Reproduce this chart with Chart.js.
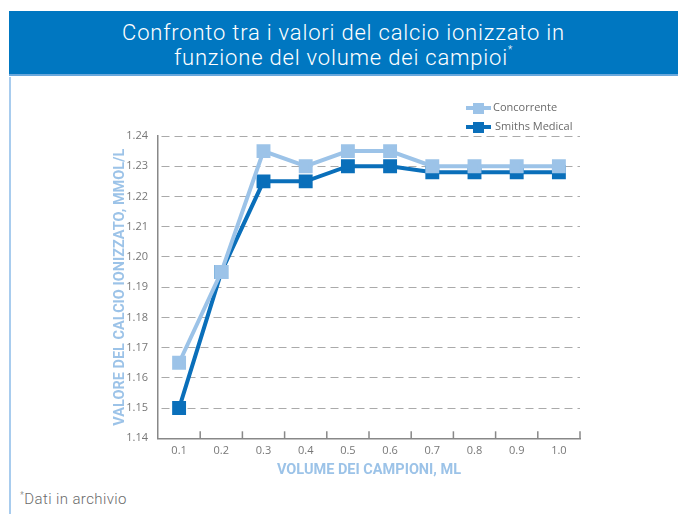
<!DOCTYPE html>
<html>
<head>
<meta charset="utf-8">
<script src="https://cdn.jsdelivr.net/npm/chart.js@4"></script>
<style>
  body { margin: 0; width: 678px; height: 514px; background: #fff; position: relative; overflow: hidden; font-family: Roboto, sans-serif; }
  .header {
    position: absolute; left: 9px; top: 11px; width: 669px; height: 65px;
    background: #0077c1; border-bottom: 2px solid #6aa8dc;
    color: #fff; text-align: center; font-weight: 300; font-size: 22px; line-height: 25px;
    letter-spacing: 0.8px; padding-top: 9px; box-sizing: border-box;
  }
  .header sup { font-size: 10px; vertical-align: top; line-height: 10px; }
  .border { position: absolute; left: 9px; top: 77px; width: 2px; height: 437px; background: #a8ccee; }
  .wrap { position: absolute; left: 0; top: 80px; width: 678px; height: 410px; }
  .note { position: absolute; left: 20px; top: 490px; font-size: 15px; font-weight: 300; letter-spacing: 0.4px; color: #6a6a6a; }
  .note sup { font-size: 9px; }
</style>
</head>
<body>
<div class="header">Confronto tra i valori del calcio ionizzato in<br>funzione del volume dei campioi<sup>*</sup></div>
<div class="border"></div>
<div class="wrap"><canvas id="calcioChart"></canvas></div>
<div class="note"><sup>*</sup>Dati in archivio</div>
<script>
// Data
const volumes = ['0.1', '0.2', '0.3', '0.4', '0.5', '0.6', '0.7', '0.8', '0.9', '1.0'];
const concorrente = [1.165, 1.195, 1.235, 1.23, 1.235, 1.235, 1.23, 1.23, 1.23, 1.23];
const smithsMedical = [1.15, 1.195, 1.225, 1.225, 1.23, 1.23, 1.228, 1.228, 1.228, 1.228];
const seriesNames = ['Concorrente', 'Smiths Medical'];

const lightBlue = '#9cc3e8';
const darkBlue = '#0a6fba';

// Legend: line with a square on it, stacked at top right
const lineLegend = {
    id: 'lineLegend',
    afterDraw(chart) {
        const ctx = chart.ctx;
        const x0 = 466;
        const rows = [28, 47];
        ctx.save();
        chart.data.datasets.forEach((ds, i) => {
            const y = rows[i];
            ctx.strokeStyle = ds.borderColor;
            ctx.lineWidth = 4;
            ctx.beginPath();
            ctx.moveTo(x0, y);
            ctx.lineTo(x0 + 25, y);
            ctx.stroke();
            ctx.fillStyle = ds.borderColor;
            ctx.fillRect(x0 + 7, y - 5, 11, 11);
            ctx.fillStyle = '#6a6a6a';
            ctx.font = '11px "Open Sans", sans-serif';
            ctx.textBaseline = 'middle';
            ctx.fillText(ds.label, x0 + 27 + i * 2, y);
        });
        ctx.restore();
    }
};

// Short tick marks between categories, pointing up into the plot
const innerTicks = {
    id: 'innerTicks',
    afterDatasetsDraw(chart) {
        const xs = chart.scales.x;
        const ctx = chart.ctx;
        const bottom = chart.chartArea.bottom;
        ctx.save();
        ctx.strokeStyle = '#888';
        ctx.lineWidth = 1.5;
        for (let i = 0; i < volumes.length; i++) {
            const px = i < volumes.length - 1
                ? (xs.getPixelForValue(i) + xs.getPixelForValue(i + 1)) / 2
                : xs.right;
            ctx.beginPath();
            ctx.moveTo(px, bottom);
            ctx.lineTo(px, bottom - 7);
            ctx.stroke();
        }
        ctx.restore();
    }
};

const ctx = document.getElementById('calcioChart').getContext('2d');
const calcioChart = new Chart(ctx, {
    type: 'line',
    data: {
        labels: volumes,
        datasets: [{
            label: seriesNames[0],
            data: concorrente,
            borderColor: lightBlue,
            backgroundColor: lightBlue,
            borderWidth: 4,
            pointStyle: 'rect',
            pointRadius: 7,
            pointHoverRadius: 7,
            tension: 0
        }, {
            label: seriesNames[1],
            data: smithsMedical,
            borderColor: darkBlue,
            backgroundColor: darkBlue,
            borderWidth: 4,
            pointStyle: 'rect',
            pointRadius: 7,
            pointHoverRadius: 7,
            tension: 0
        }]
    },
    options: {
        responsive: true,
        maintainAspectRatio: false,
        animation: false,
        layout: { padding: { left: 100, top: 56, right: 98, bottom: 12 } },
        plugins: {
            legend: { display: false },
            tooltip: { enabled: false }
        },
        scales: {
            x: {
                offset: true,
                grid: {
                    offset: true,
                    drawOnChartArea: false,
                    drawTicks: false
                },
                border: { color: '#888', width: 1.5 },
                ticks: { color: '#777', font: { family: 'Open Sans', size: 11 }, padding: 6 },
                title: {
                    display: true,
                    text: 'VOLUME DEI CAMPIONI, ML',
                    color: lightBlue,
                    font: { family: 'Roboto', size: 14.5, weight: 'bold', lineHeight: 1 },
                    padding: { top: 0, bottom: 0 }
                }
            },
            y: {
                min: 1.14,
                max: 1.24,
                afterFit(scale) { scale.width = 58; },
                grid: {
                    color: '#aaa',
                    drawTicks: false
                },
                border: { color: '#888', width: 1.5, dash: [8, 5], dashOffset: -3 },
                ticks: {
                    stepSize: 0.01,
                    color: '#777',
                    font: { family: 'Open Sans', size: 11 },
                    padding: 10,
                    callback: function(value) {
                        return value.toFixed(2);
                    }
                },
                title: {
                    display: true,
                    text: 'VALORE DEL CALCIO IONIZZATO, MMOL/L',
                    color: lightBlue,
                    font: { family: 'Roboto', size: 14.5, weight: 'bold' },
                    padding: { top: 12, bottom: 0 }
                }
            }
        }
    },
    plugins: [lineLegend, innerTicks]
});
</script>
</body>
</html>
